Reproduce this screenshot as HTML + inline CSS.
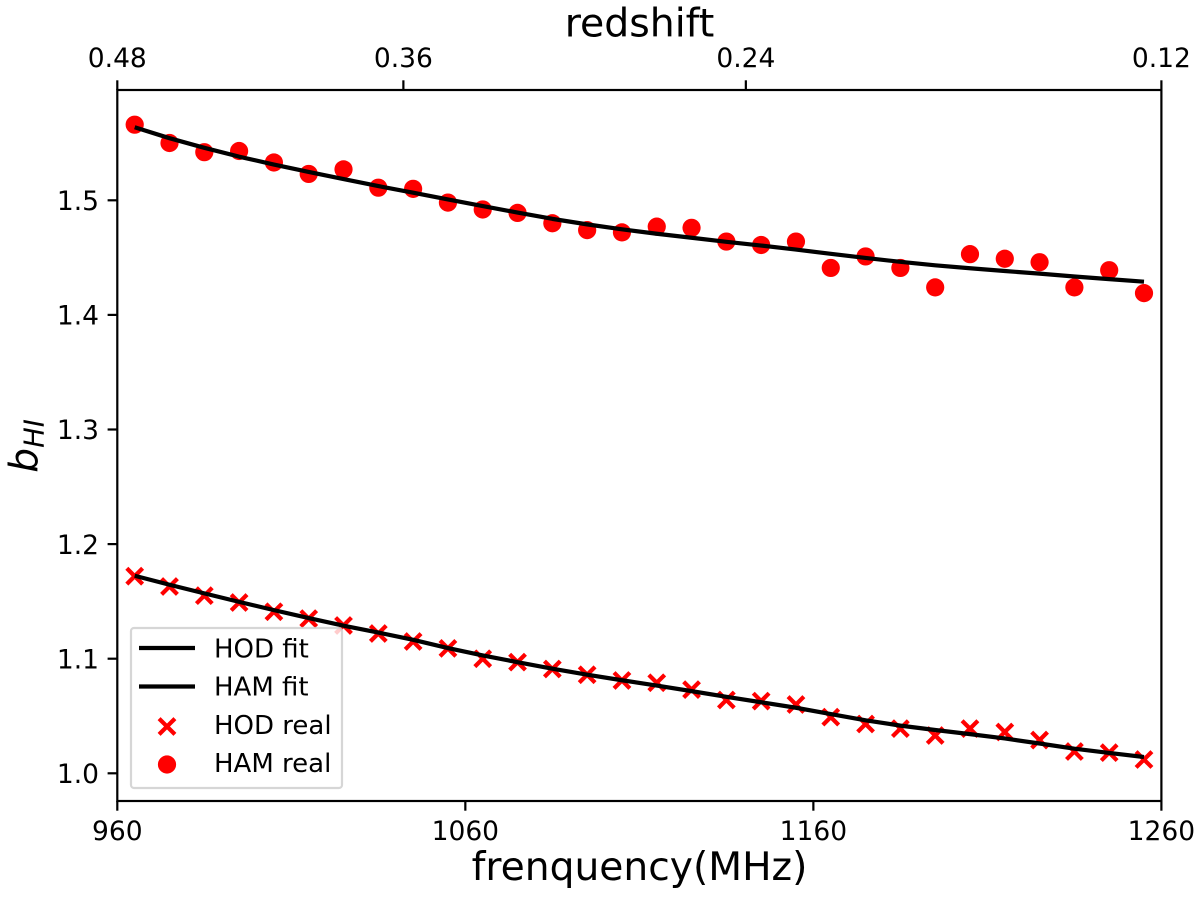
<!DOCTYPE html>
<html lang="en">
<head>
<meta charset="utf-8">
<title>HI bias vs frequency</title>
<style>
  html, body { margin: 0; padding: 0; background: #fff; }
  svg { display: block; }
  text { font-family: "DejaVu Sans", "Liberation Sans", sans-serif; fill: #000; }
</style>
</head>
<body>
<svg id="chart" xmlns="http://www.w3.org/2000/svg" width="1200" height="901" viewBox="0 0 1200 901"></svg>
<script>
const frequencies = [965,975,985,995,1005,1015,1025,1035,1045,1055,1065,1075,1085,1095,1105,1115,1125,1135,1145,1155,1165,1175,1185,1195,1205,1215,1225,1235,1245,1255];
const hamReal = [1.566,1.550,1.542,1.543,1.533,1.523,1.527,1.511,1.510,1.498,1.492,1.489,1.480,1.474,1.472,1.477,1.476,1.464,1.461,1.464,1.441,1.451,1.441,1.424,1.453,1.449,1.446,1.424,1.439,1.419];
const hodReal = [1.172,1.163,1.155,1.149,1.141,1.135,1.129,1.122,1.115,1.109,1.100,1.097,1.091,1.086,1.081,1.079,1.073,1.064,1.063,1.060,1.049,1.043,1.039,1.033,1.039,1.036,1.029,1.019,1.018,1.012];
const hamFit = [1.5637,1.5542,1.5458,1.5381,1.5312,1.5247,1.5185,1.5124,1.5066,1.5008,1.4950,1.4893,1.4838,1.4790,1.4747,1.4708,1.4673,1.4638,1.4605,1.4570,1.4533,1.4497,1.4463,1.4433,1.4407,1.4383,1.4360,1.4335,1.4312,1.4290];
const hodFit = [1.1724,1.1645,1.1570,1.1496,1.1424,1.1355,1.1288,1.1228,1.1165,1.1093,1.1028,1.0970,1.0913,1.0860,1.0812,1.0766,1.0717,1.0667,1.0620,1.0572,1.0517,1.0462,1.0416,1.0378,1.0342,1.0304,1.0260,1.0215,1.0178,1.0142];
const bottomTicks = [960,1060,1160,1260];
const topTickLabels = ["0.48","0.36","0.24","0.12"];
const topTickFreqs = [960,1042.2,1140.6,1260];
const yTicks = [1.0,1.1,1.2,1.3,1.4,1.5];

const NS = "http://www.w3.org/2000/svg";
const svg = document.getElementById("chart");
const plot = { left: 117.3, right: 1161.4, top: 90, bottom: 801 };

function xScale(f) { return plot.left + (f - 960) / 300 * (plot.right - plot.left); }
function yScale(v) { return 773.3 - (v - 1.0) / 0.5 * 573; }

function make(tag, attrs, parent) {
  const el = document.createElementNS(NS, tag);
  for (const k in attrs) el.setAttribute(k, attrs[k]);
  (parent || svg).appendChild(el);
  return el;
}

/* fit lines */
function drawFit(values, name) {
  const pts = values.map((v, i) => xScale(frequencies[i]).toFixed(2) + "," + yScale(v).toFixed(2)).join(" ");
  const line = make("polyline", { points: pts, fill: "none", stroke: "#000", "stroke-width": 4.2, "stroke-linejoin": "round" });
  
  
}

function drawCross(parent, cx, cy) {
  const d = 7.9;
  make("path", {
    d: `M${cx - d} ${cy - d}L${cx + d} ${cy + d}M${cx - d} ${cy + d}L${cx + d} ${cy - d}`,
    stroke: "#f00", "stroke-width": 4.2, fill: "none"
  }, parent);
}

/* markers */
const hamGroup = make("g", {});


hamReal.forEach((v, i) => {
  const c = make("circle", { cx: xScale(frequencies[i]), cy: yScale(v), r: 9.1, fill: "#f00" }, hamGroup);
  
  
});
const hodGroup = make("g", {});


hodReal.forEach((v, i) => {
  const g = make("g", {}, hodGroup);
  
  
  drawCross(g, xScale(frequencies[i]), yScale(v));
});

drawFit(hodFit, "hod-fit-line");
drawFit(hamFit, "ham-fit-line");

/* legend */
const legend = make("g", {});


make("rect", { x: 131, y: 628, width: 211, height: 160, rx: 3, ry: 3, fill: "#fff", "fill-opacity": 0.8, stroke: "#ccc", "stroke-opacity": 0.8, "stroke-width": 2.2 }, legend);
const legendLabels = ["HOD fit", "HAM fit", "HOD real", "HAM real"];
const legendLineY = [648, 686.5, 726.5, 764.5];
const legendBase = [657.5, 695.5, 734, 772];
legendLabels.forEach((label, i) => {
  const g = make("g", {}, legend);
  
  
  if (i < 2) make("line", { x1: 139, x2: 195, y1: legendLineY[i], y2: legendLineY[i], stroke: "#000", "stroke-width": 4.2 }, g);
  else if (i === 2) drawCross(g, 167, legendLineY[i]);
  else make("circle", { cx: 167, cy: legendLineY[i], r: 9.1, fill: "#f00" }, g);
  const t = make("text", { x: 214, y: legendBase[i], "font-size": 26 }, g);
  t.textContent = label;
});

/* spines */
const spines = make("rect", { x: plot.left, y: plot.top, width: plot.right - plot.left, height: plot.bottom - plot.top, fill: "none", stroke: "#000", "stroke-width": 2.2 });



/* bottom axis */
bottomTicks.forEach(f => {
  const x = xScale(f);
  const tick = make("line", { x1: x, x2: x, y1: plot.bottom, y2: plot.bottom + 9.7, stroke: "#000", "stroke-width": 2.2 });
  
  
  const t = make("text", { x: x, y: 840, "font-size": 26.5, "text-anchor": "middle" });
  
  
  t.textContent = String(f);
});

/* top axis */
topTickFreqs.forEach((f, i) => {
  const x = xScale(f);
  const tick = make("line", { x1: x, x2: x, y1: plot.top, y2: plot.top - 9.7, stroke: "#000", "stroke-width": 2.2 });
  
  
  const t = make("text", { x: x, y: 67, "font-size": 26.5, "text-anchor": "middle" });
  
  
  t.textContent = topTickLabels[i];
});

/* y axis */
yTicks.forEach(v => {
  const y = yScale(v);
  const tick = make("line", { x1: plot.left, x2: plot.left - 9.7, y1: y, y2: y, stroke: "#000", "stroke-width": 2.2 });
  
  
  const t = make("text", { x: 99, y: y + 9.7, "font-size": 26.5, "text-anchor": "end" });
  
  
  t.textContent = v.toFixed(1);
});

/* axis titles */
const xTitle = make("text", { x: 639.5, y: 880, "font-size": 39.2, "text-anchor": "middle" });


xTitle.textContent = "frenquency(MHz)";

const topTitle = make("text", { x: 639.5, y: 36.7, "font-size": 39.4, "text-anchor": "middle" });


topTitle.textContent = "redshift";

const yTitle = make("text", { transform: "translate(37.5,446) rotate(-90)", "font-size": 39.2, "text-anchor": "middle", "font-style": "italic" });


const bSpan = make("tspan", {}, yTitle);
bSpan.textContent = "b";
const subSpan = make("tspan", { "font-size": 27.4, dy: 6 }, yTitle);
subSpan.textContent = "HI";
</script>
</body>
</html>
